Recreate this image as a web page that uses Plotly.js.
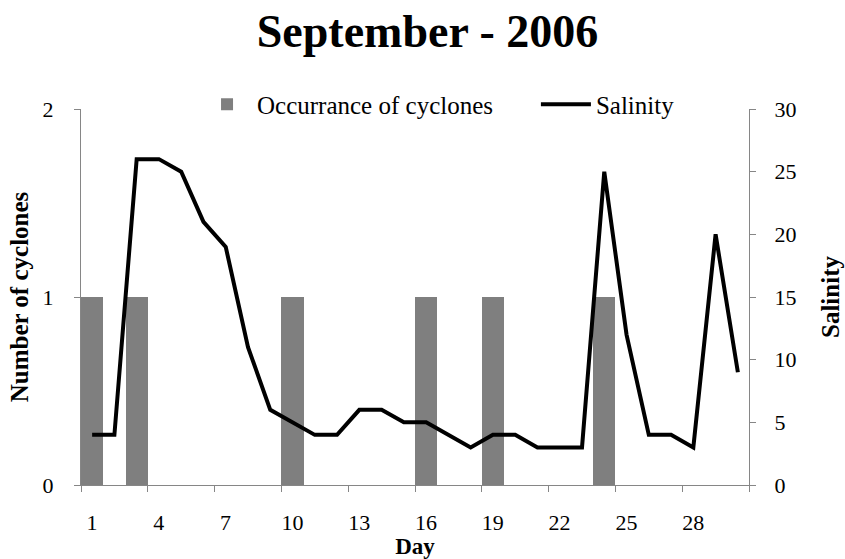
<!DOCTYPE html>
<html>
<head>
<meta charset="utf-8">
<script src="https://cdn.plot.ly/plotly-3.0.1.min.js"></script>
<style>html,body{margin:0;padding:0;background:#fff;}#chart{width:845px;height:559px;}</style>
</head>
<body>
<div id="chart"></div>
<script>
const days = Array.from({length: 30}, (_, i) => i + 1);
const cycloneDays = [1, 3, 10, 16, 19, 24];
const cycloneCounts = [1, 1, 1, 1, 1, 1];
const salinity = [4, 4, 26, 26, 25, 21, 19, 11, 6, 5, 4, 4, 6, 6, 5, 5, 4, 3, 4, 4, 3, 3, 3, 25, 12, 4, 4, 3, 20, 9];
const xTickVals = [0.5, 3.5, 6.5, 9.5, 12.5, 15.5, 18.5, 21.5, 24.5, 27.5, 30.5];
const xTickText = ['1', '4', '7', '10', '13', '16', '19', '22', '25', '28', ''];

const serif = 'Liberation Serif, Times New Roman, serif';
const axisGray = '#868686';

const traces = [
  {
    type: 'bar', x: cycloneDays, y: cycloneCounts, width: 1,
    name: 'Occurrance of cyclones',
    marker: {color: '#7f7f7f', line: {width: 0}},
    xaxis: 'x', yaxis: 'y', legend: 'legend'
  },
  {
    type: 'scatter', mode: 'lines', x: days, y: salinity,
    name: 'Salinity',
    line: {color: '#000000', width: 4},
    xaxis: 'x', yaxis: 'y2', legend: 'legend2'
  }
];

const legendFont = {family: serif, size: 25, color: '#000'};

const layout = {
  width: 845, height: 559,
  margin: {l: 81, r: 96, t: 109, b: 74},
  paper_bgcolor: '#ffffff', plot_bgcolor: '#ffffff',
  font: {family: serif, color: '#000', size: 22},
  showlegend: true,
  title: {
    text: '<b>September - 2006</b>',
    font: {family: serif, size: 46, color: '#000'},
    xref: 'container', x: 0.506, xanchor: 'center',
    yref: 'container', y: 0.944, yanchor: 'middle'
  },
  legend: {
    orientation: 'h', x: 0.1737, xanchor: 'left', y: 1.012, yanchor: 'middle',
    font: legendFont, bgcolor: 'rgba(0,0,0,0)', itemwidth: 50
  },
  legend2: {
    orientation: 'h', x: 0.681, xanchor: 'left', y: 1.012, yanchor: 'middle',
    font: legendFont, bgcolor: 'rgba(0,0,0,0)', itemwidth: 50
  },
  xaxis: {
    range: [0.5, 30.5], tickmode: 'array', tickvals: xTickVals, ticktext: xTickText,
    ticklabelshift: 11, ticks: 'outside', ticklen: 6, tickcolor: axisGray, tickwidth: 1,
    ticklabelstandoff: 12,
    showline: true, linecolor: axisGray, linewidth: 1, showgrid: false, zeroline: false,
    automargin: false,
    title: {text: '<b>Day</b>', font: {family: serif, size: 23, color: '#000'}, standoff: 5}
  },
  yaxis: {
    range: [0, 2], tickvals: [0, 1, 2], ticks: 'outside', ticklen: 6, tickcolor: axisGray,
    ticklabelstandoff: 16,
    showline: true, linecolor: axisGray, linewidth: 1, showgrid: false, zeroline: false,
    automargin: false,
    title: {text: '<b>Number of cyclones</b>', font: {family: serif, size: 25, color: '#000'}, standoff: 6}
  },
  yaxis2: {
    range: [0, 30], tickvals: [0, 5, 10, 15, 20, 25, 30], overlaying: 'y', side: 'right',
    ticks: 'outside', ticklen: 6, tickcolor: axisGray, ticklabelstandoff: 14,
    showline: true, linecolor: axisGray, linewidth: 1, showgrid: false, zeroline: false,
    automargin: false,
    title: {text: '<b>Salinity</b>', font: {family: serif, size: 25, color: '#000'}, standoff: 26}
  },
  bargap: 0
};

Plotly.newPlot('chart', traces, layout, {displayModeBar: false, staticPlot: true});
</script>
</body>
</html>
